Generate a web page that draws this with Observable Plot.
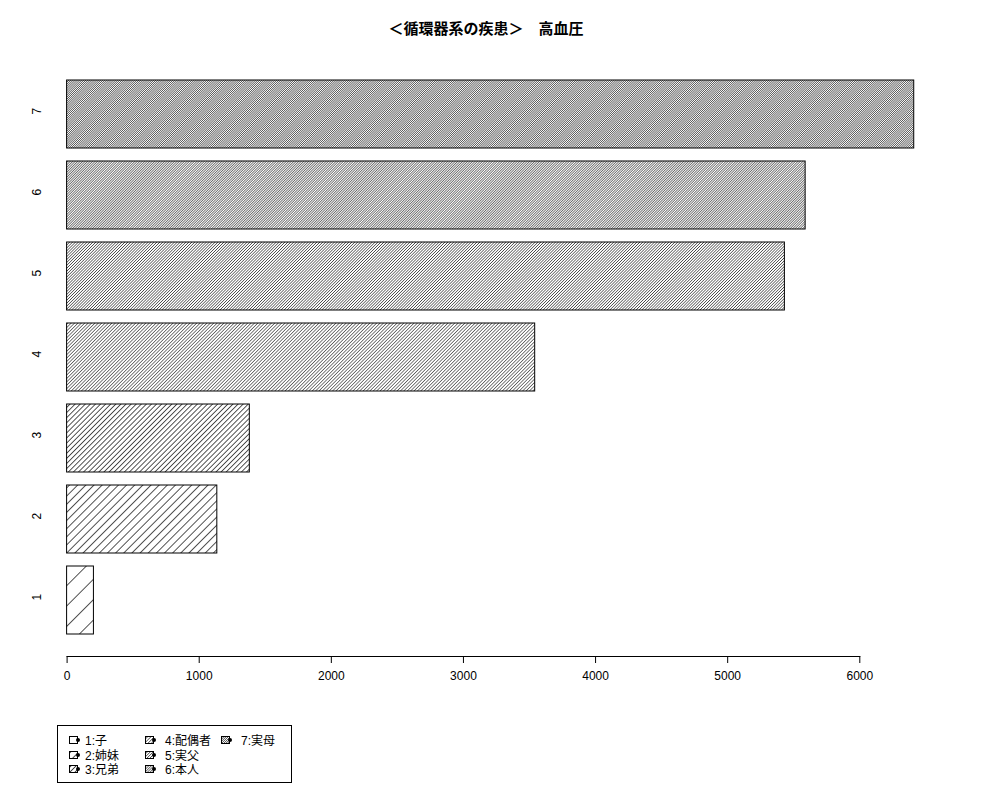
<!DOCTYPE html>
<html>
<head>
<meta charset="utf-8">
<script src="https://cdn.jsdelivr.net/npm/d3@7"></script>
<script src="https://cdn.jsdelivr.net/npm/@observablehq/plot@0.6"></script>
<style>
  html, body { margin: 0; padding: 0; background: #fff; }
  #wrap { position: relative; width: 1000px; height: 800px; font-family: "Liberation Sans", "Noto Sans CJK JP", sans-serif; }
  #title { position: absolute; left: 0; top: 19px; width: 972px; height: 20px; line-height: 20px; text-align: center;
           font-weight: bold; font-size: 15px; font-family: "Liberation Sans", "Noto Sans CJK JP", sans-serif; color: #000; }
  #chart { position: absolute; left: 0; top: 0; }
  #legend { position: absolute; left: 50px; top: 715px; }
</style>
</head>
<body>
<div id="wrap">
  <div id="chart"></div>
  <div id="title"></div>
  <div id="legend"></div>
</div>
<script>
// ---- data ----
const titleText = "＜循環器系の疾患＞　高血圧";
const categories = ["1", "2", "3", "4", "5", "6", "7"];
const legendLabels = ["1:子", "2:姉妹", "3:兄弟", "4:配偶者", "5:実父", "6:本人", "7:実母"];
const values = [203, 1137, 1383, 3543, 5433, 5590, 6412];
const xTicks = [0, 1000, 2000, 3000, 4000, 5000, 6000];
// hatch density (lines per inch, R style)
const densities = [5, 12.5, 20, 30, 35, 41, 48];

const data = categories.map((c, i) => ({cat: c, value: values[i], label: legendLabels[i]}));

document.getElementById("title").textContent = titleText;

function addPatterns(svgSel, prefix) {
  const defs = svgSel.insert("defs", ":first-child");
  categories.forEach((c, i) => {
    const p = 72 / densities[i]; // perpendicular spacing in px
    const pat = defs.append("pattern")
      .attr("id", prefix + c)
      .attr("patternUnits", "userSpaceOnUse")
      .attr("width", p)
      .attr("height", 10)
      .attr("patternTransform", "rotate(45)");
    pat.append("rect").attr("width", p).attr("height", 10).attr("fill", "white");
    pat.append("line")
      .attr("x1", 0.35).attr("y1", 0).attr("x2", 0.35).attr("y2", 10)
      .attr("stroke", "black").attr("stroke-width", i < 3 ? 0.8 : 0.6);
  });
}

const chart = Plot.plot({
  width: 1000,
  height: 700,
  marginLeft: 66.6,
  marginRight: 140.7,
  marginTop: 56.6,
  marginBottom: 44,
  style: {fontSize: "12px", fontFamily: "'Liberation Sans', 'Noto Sans CJK JP', sans-serif", color: "black", background: "transparent"},
  x: {domain: [0, 6000], axis: null},
  y: {domain: categories.slice().reverse(), paddingInner: 1 / 6, paddingOuter: 0.28, axis: null},
  color: {type: "identity"},
  marks: [
    Plot.barX(data, {x: "value", y: "cat", fill: d => `url(#hatch-${d.cat})`, stroke: "black", strokeWidth: 1}),
    Plot.text(data, {y: "cat", text: "cat", frameAnchor: "left", dx: -30, rotate: -90, fill: "black"}),
    Plot.axisX({ticks: xTicks, tickFormat: "d", tickSize: 7, tickPadding: 8, stroke: "black", label: null}),
    Plot.frame({anchor: "bottom", stroke: "black"})
  ]
});
addPatterns(d3.select(chart), "hatch-");
document.getElementById("chart").appendChild(chart);

// ---- legend ----
const lg = d3.select("#legend").append("svg").attr("width", 260).attr("height", 75)
  .style("font-family", "'Liberation Sans', 'Noto Sans CJK JP', sans-serif").style("font-size", "12px");
addPatterns(lg, "lg-");
lg.append("rect").attr("x", 7.5).attr("y", 10.5).attr("width", 234).attr("height", 57)
  .attr("fill", "white").attr("stroke", "black");
const rowsY = [25, 40, 54];
const swX = [19, 95, 171];
const txX = [35, 115, 191];
data.forEach((d, i) => {
  const col = Math.floor(i / 3), row = i % 3;
  lg.append("rect").attr("x", swX[col] + 0.5).attr("y", rowsY[row] - 3.5).attr("width", 8).attr("height", 7)
    .attr("fill", `url(#lg-${d.cat})`).attr("stroke", "black").attr("stroke-width", 1);
  lg.append("circle").attr("cx", swX[col] + 9).attr("cy", rowsY[row]).attr("r", 2).attr("fill", "black");
  lg.append("text").attr("x", txX[col]).attr("y", rowsY[row] + 4.5).text(d.label);
});
</script>
</body>
</html>
